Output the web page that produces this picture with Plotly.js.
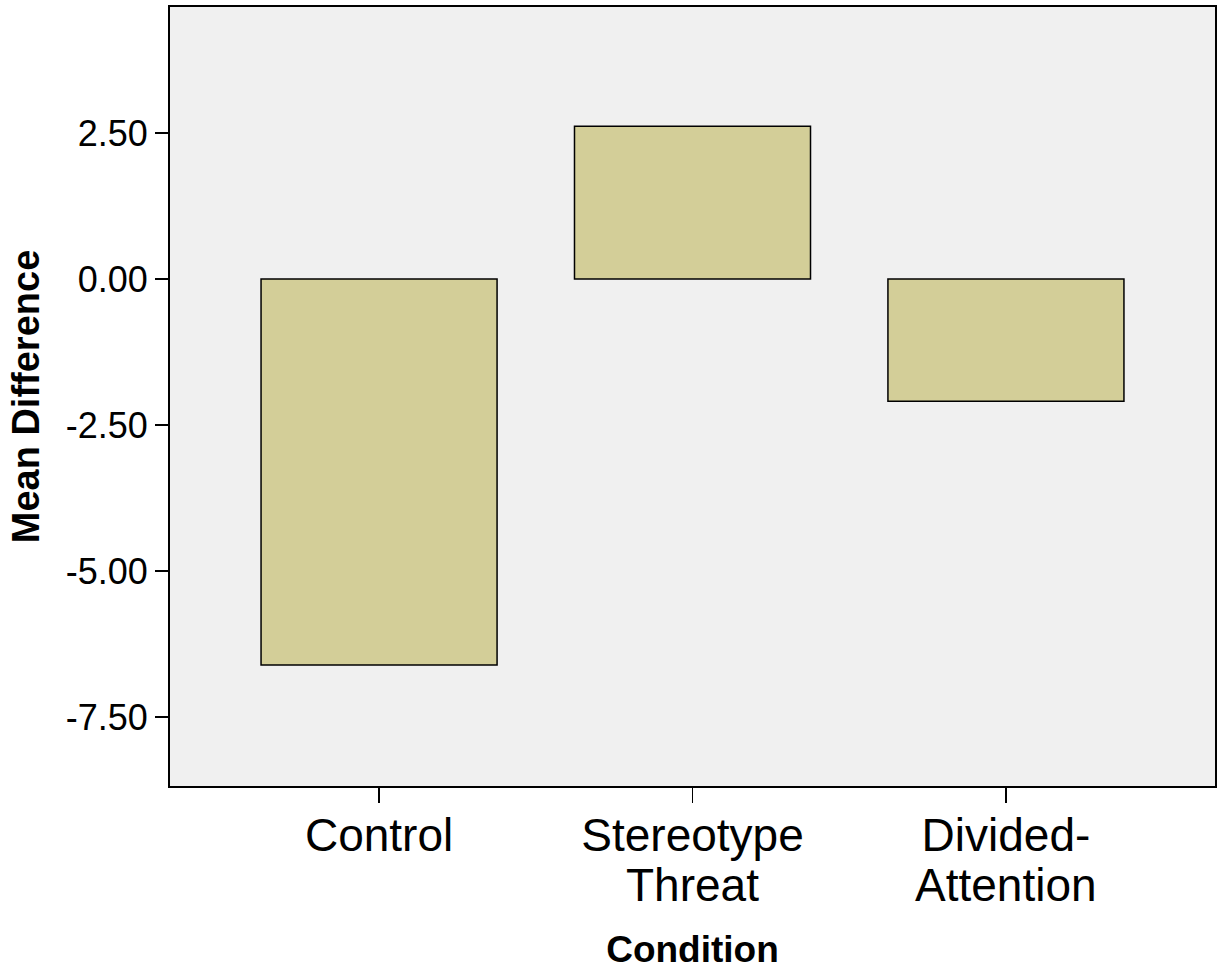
<!DOCTYPE html>
<html>
<head>
<meta charset="utf-8">
<script src="https://cdn.plot.ly/plotly-3.0.1.min.js"></script>
<style>html,body{margin:0;padding:0;background:#fff;}#chart{width:1222px;height:970px;}</style>
</head>
<body>
<div id="chart"></div>
<script>
const categoryLine1 = ["Control", "Stereotype", "Divided-"];
const categoryLine2 = ["", "Threat", "Attention"];
const meanDiff = [-6.61, 2.62, -2.09];
const yTickVals = [-7.5, -5, -2.5, 0, 2.5];
const yTickText = ["-7.50", "-5.00", "-2.50", "0.00", "2.50"];
const catPos = categoryLine1.map((_, i) => i);

const FONT = "Liberation Sans, Arial, sans-serif";

const trace = {
  type: "bar",
  x: catPos,
  y: meanDiff,
  marker: {color: "#d3ce98", line: {color: "#000", width: 1.5}},
  hoverinfo: "skip"
};

const secondLines = categoryLine2.map((t, i) => ({
  x: catPos[i], xref: "x",
  y: 0, yref: "paper",
  yanchor: "top", xanchor: "center",
  yshift: -71,
  text: t, showarrow: false,
  font: {size: 46, family: FONT, color: "#000"}
})).filter(a => a.text !== "");

const layout = {
  width: 1222, height: 970,
  margin: {l: 170, r: 7, t: 7, b: 184},
  paper_bgcolor: "#fff",
  plot_bgcolor: "#f0f0f0",
  bargap: 0.247,
  showlegend: false,
  font: {family: FONT, color: "#000"},
  annotations: secondLines,
  xaxis: {
    range: [-0.667, 2.667],
    tickvals: catPos,
    ticktext: categoryLine1,
    ticks: "outside", ticklen: 15, tickwidth: 1.5, tickcolor: "#000",
    ticklabelstandoff: -7,
    tickfont: {size: 46, family: FONT},
    showgrid: false, zeroline: false,
    showline: true, linecolor: "#000", linewidth: 2, mirror: true,
    title: {text: "<b>Condition</b>", font: {size: 37}, standoff: 76}
  },
  yaxis: {
    range: [-8.68, 4.66],
    tickvals: yTickVals,
    ticktext: yTickText,
    ticks: "outside", ticklen: 13, tickwidth: 1.5, tickcolor: "#000",
    tickfont: {size: 36, family: FONT},
    showgrid: false, zeroline: false,
    showline: true, linecolor: "#000", linewidth: 2, mirror: true,
    title: {text: "<b>Mean Difference</b>", font: {size: 38}, standoff: 14}
  }
};

Plotly.newPlot("chart", [trace], layout, {displayModeBar: false, staticPlot: true});
</script>
</body>
</html>
